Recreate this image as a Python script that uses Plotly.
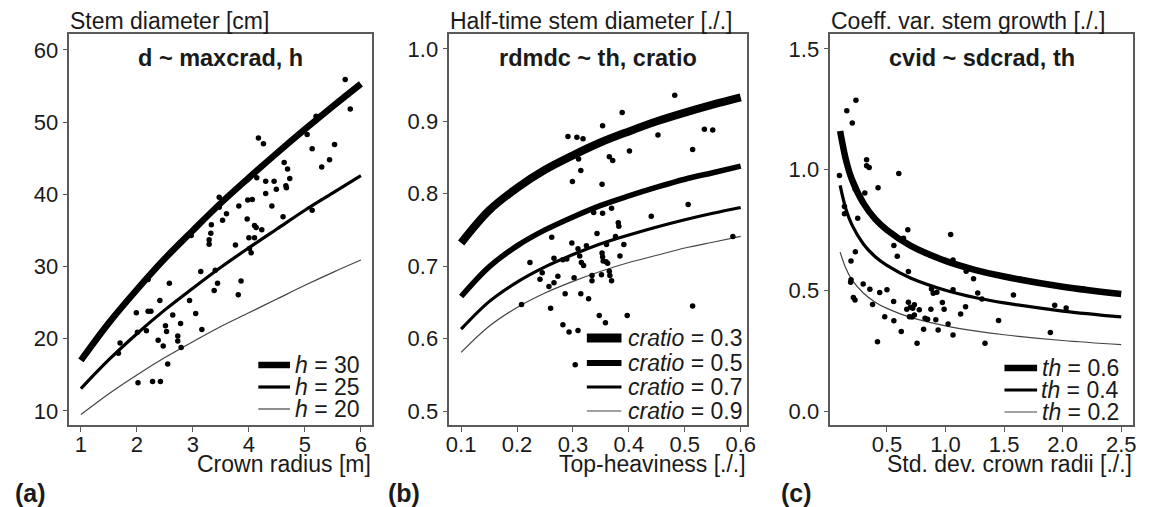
import plotly.graph_objects as go

W, H = 1151, 507
FONT = "Liberation Sans, Arial, sans-serif"
TXT = "#1a1a1a"
FRAME = "#5a5a5a"

# ---------------- Panel (a) data ----------------
a_curve_x = [1, 1.5, 2, 2.5, 3, 3.5, 4, 4.5, 5, 5.5, 6]
a_h30 = [17.0, 22.2, 26.8, 31.1, 35.0, 38.8, 42.3, 45.7, 49.0, 52.2, 55.3]
a_h25 = [13.1, 17.1, 20.7, 24.0, 27.0, 29.9, 32.6, 35.2, 37.8, 40.2, 42.6]
a_h20 = [9.5, 12.4, 15.0, 17.4, 19.6, 21.7, 23.6, 25.5, 27.4, 29.2, 30.9]
a_pts_x = [5.72, 5.81, 5.20, 5.04, 5.13, 5.30, 5.44, 5.53, 4.17, 4.26, 4.63, 4.69, 4.73, 4.67,
           4.66, 4.49, 4.45, 4.30, 4.30, 4.14, 4.41, 4.61, 5.13, 3.98, 4.06, 3.97, 4.10, 4.13,
           4.23, 4.00, 4.10, 3.82, 3.76, 3.60, 3.53, 3.47, 3.47, 3.33, 3.32, 3.29, 3.29, 2.97,
           4.01, 4.04, 3.14, 3.40, 3.38, 3.44, 3.86, 3.81, 2.58, 2.41, 2.94, 1.99, 2.20, 2.25,
           2.64, 3.05, 2.51, 2.53, 2.78, 2.17, 2.38, 2.47, 2.73, 2.73, 2.79, 3.16, 2.01, 1.67,
           1.70, 2.55, 2.02, 2.28, 2.42, 2.20]
a_pts_y = [55.9, 51.8, 50.8, 48.3, 46.3, 43.8, 44.8, 46.9, 47.8, 47.0, 44.4, 43.5, 42.2, 40.9,
           41.2, 40.7, 41.8, 41.8, 40.1, 42.3, 38.4, 36.9, 37.8, 39.2, 39.3, 36.6, 35.7, 35.4,
           35.1, 34.0, 34.0, 38.4, 33.0, 37.3, 36.4, 39.6, 38.2, 35.8, 34.6, 33.7, 33.1, 34.3,
           32.5, 31.9, 29.3, 29.5, 26.7, 27.7, 28.0, 26.1, 27.7, 25.3, 25.3, 23.6, 23.8, 23.8,
           23.3, 23.5, 21.8, 21.0, 22.1, 21.1, 19.8, 19.0, 20.4, 19.7, 18.8, 21.3, 20.9, 18.0,
           19.4, 16.5, 13.9, 14.1, 14.1, 28.2]
a_xticks = [1, 2, 3, 4, 5, 6]
a_yticks = [10, 20, 30, 40, 50, 60]

# ---------------- Panel (b) data ----------------
b_curve_x = [0.1, 0.15, 0.2, 0.25, 0.3, 0.35, 0.4, 0.45, 0.5, 0.55, 0.6]
b_c03 = [0.732, 0.777, 0.808, 0.833, 0.853, 0.871, 0.886, 0.900, 0.912, 0.923, 0.933]
b_c05 = [0.658, 0.699, 0.728, 0.750, 0.768, 0.784, 0.797, 0.809, 0.820, 0.829, 0.838]
b_c07 = [0.613, 0.651, 0.678, 0.699, 0.716, 0.731, 0.743, 0.754, 0.764, 0.773, 0.781]
b_c09 = [0.581, 0.617, 0.643, 0.663, 0.679, 0.693, 0.705, 0.715, 0.725, 0.733, 0.741]
b_pts_x = [0.482, 0.388, 0.353, 0.291, 0.307, 0.318, 0.452, 0.535, 0.550, 0.514, 0.401, 0.365,
           0.371, 0.314, 0.299, 0.352, 0.310, 0.506, 0.440, 0.381, 0.382, 0.353, 0.337, 0.369,
           0.586, 0.514, 0.262, 0.223, 0.208, 0.241, 0.245, 0.266, 0.257, 0.266, 0.273, 0.282,
           0.298, 0.286, 0.260, 0.282, 0.293, 0.309, 0.304, 0.302, 0.314, 0.328, 0.309, 0.312,
           0.315, 0.319, 0.324, 0.334, 0.334, 0.343, 0.347, 0.353, 0.352, 0.354, 0.351, 0.359,
           0.362, 0.358, 0.365, 0.366, 0.369, 0.360, 0.391, 0.376, 0.384, 0.397, 0.289]
b_pts_y = [0.936, 0.912, 0.894, 0.879, 0.878, 0.876, 0.881, 0.889, 0.888, 0.861, 0.859, 0.851,
           0.846, 0.832, 0.817, 0.813, 0.848, 0.785, 0.769, 0.760, 0.755, 0.773, 0.774, 0.780,
           0.741, 0.645, 0.740, 0.705, 0.647, 0.682, 0.691, 0.711, 0.672, 0.677, 0.686, 0.709,
           0.732, 0.662, 0.642, 0.619, 0.609, 0.611, 0.564, 0.684, 0.662, 0.655, 0.724, 0.714,
           0.705, 0.701, 0.728, 0.687, 0.680, 0.745, 0.632, 0.713, 0.718, 0.707, 0.688, 0.706,
           0.704, 0.622, 0.693, 0.687, 0.680, 0.730, 0.730, 0.741, 0.714, 0.632, 0.710]
b_xticks = [0.1, 0.2, 0.3, 0.4, 0.5, 0.6]
b_yticks = [0.5, 0.6, 0.7, 0.8, 0.9, 1.0]

# ---------------- Panel (c) data ----------------
c_curve_x = [0.1, 0.15, 0.2, 0.3, 0.4, 0.5, 0.7, 1.0, 1.25, 1.5, 2.0, 2.5]
c_th06 = [1.160, 1.040, 0.960, 0.860, 0.795, 0.750, 0.685, 0.622, 0.585, 0.557, 0.515, 0.485]
c_th04 = [0.935, 0.836, 0.772, 0.691, 0.639, 0.603, 0.551, 0.500, 0.470, 0.448, 0.414, 0.390]
c_th02 = [0.658, 0.590, 0.544, 0.488, 0.451, 0.425, 0.388, 0.353, 0.332, 0.316, 0.292, 0.275]
c_pts_x = [0.235, 0.157, 0.204, 0.326, 0.326, 0.348, 0.094, 0.601, 0.424, 0.227, 0.311, 0.137,
           0.137, 0.250, 0.678, 0.641, 1.044, 0.559, 0.588, 0.230, 0.193, 0.683, 1.064, 0.193,
           0.190, 0.213, 0.227, 0.297, 0.354, 0.438, 0.500, 0.377, 0.557, 0.683, 0.669, 0.700,
           0.720, 0.734, 0.776, 0.692, 0.715, 0.734, 0.481, 0.559, 0.622, 0.419, 0.757, 0.825,
           0.847, 0.875, 0.813, 0.917, 0.937, 0.988, 0.973, 0.880, 0.895, 0.926, 1.022, 1.064,
           1.064, 1.129, 1.171, 1.176, 1.239, 1.275, 1.311, 1.337, 1.453, 1.580, 1.895, 1.932,
           2.030, 2.177, 1.641]
c_pts_y = [1.287, 1.244, 1.193, 1.041, 1.016, 1.009, 0.976, 0.984, 0.925, 0.920, 0.903, 0.847,
           0.817, 0.799, 0.751, 0.716, 0.731, 0.686, 0.641, 0.660, 0.622, 0.578, 0.626, 0.544,
           0.533, 0.470, 0.460, 0.526, 0.504, 0.491, 0.502, 0.441, 0.454, 0.451, 0.422, 0.430,
           0.426, 0.440, 0.419, 0.391, 0.389, 0.398, 0.391, 0.374, 0.329, 0.287, 0.281, 0.384,
           0.380, 0.422, 0.339, 0.378, 0.336, 0.422, 0.450, 0.505, 0.488, 0.492, 0.360, 0.315,
           0.502, 0.402, 0.432, 0.579, 0.548, 0.489, 0.464, 0.281, 0.375, 0.481, 0.325, 0.438,
           0.427, 0.505, 0.546]
c_xticks = [0.5, 1.0, 1.5, 2.0, 2.5]
c_yticks = [0.0, 0.5, 1.0, 1.5]

# ---------------- Labels ----------------
a_labels = ["<i>h</i> = 30", "<i>h</i> = 25", "<i>h</i> = 20"]
b_labels = ["<i>cratio</i> = 0.3", "<i>cratio</i> = 0.5", "<i>cratio</i> = 0.7", "<i>cratio</i> = 0.9"]
c_labels = ["<i>th</i> = 0.6", "<i>th</i> = 0.4", "<i>th</i> = 0.2"]
panel_titles = ["d ~ maxcrad, h", "rdmdc ~ th, cratio", "cvid ~ sdcrad, th"]
y_titles = ["Stem diameter [cm]", "Half-time stem diameter [./.]", "Coeff. var. stem growth [./.]"]
x_titles = ["Crown radius [m]", "Top-heaviness [./.]", "Std. dev. crown radii [./.]"]
panel_tags = ["(a)", "(b)", "(c)"]

# ---------------- Layout geometry (pixels) ----------------
frames = [(67, 372.7), (451, 751.7), (836, 1141.7)]
ytop, ybot = 34, 425
def px(x): return x / W
def py(y): return 1 - y / H

fig = go.Figure()

def add_curve(x, y, width, color, xa, ya):
    fig.add_trace(go.Scatter(x=x, y=y, mode="lines", line=dict(width=width, color=color, shape="spline"),
                             xaxis=xa, yaxis=ya, showlegend=False, hoverinfo="skip"))

def add_pts(x, y, xa, ya):
    fig.add_trace(go.Scatter(x=x, y=y, mode="markers", marker=dict(size=5.5, color="black"),
                             xaxis=xa, yaxis=ya, showlegend=False))

# panel a
add_curve(a_curve_x, a_h30, 6.5, "black", "x", "y")
add_curve(a_curve_x, a_h25, 3.2, "black", "x", "y")
add_curve(a_curve_x, a_h20, 1.2, "#444", "x", "y")
add_pts(a_pts_x, a_pts_y, "x", "y")
# panel b
add_curve(b_curve_x, b_c03, 8, "black", "x2", "y2")
add_curve(b_curve_x, b_c05, 5.5, "black", "x2", "y2")
add_curve(b_curve_x, b_c07, 3.2, "black", "x2", "y2")
add_curve(b_curve_x, b_c09, 1.2, "#444", "x2", "y2")
add_pts(b_pts_x, b_pts_y, "x2", "y2")
# panel c
add_curve(c_curve_x, c_th06, 6.5, "black", "x3", "y3")
add_curve(c_curve_x, c_th04, 3.2, "black", "x3", "y3")
add_curve(c_curve_x, c_th02, 1.2, "#444", "x3", "y3")
add_pts(c_pts_x, c_pts_y, "x3", "y3")

axis_common = dict(showgrid=False, zeroline=False, showline=True, mirror=True, linecolor=FRAME,
                   linewidth=1.5, ticks="outside", ticklen=5, tickcolor=FRAME, tickwidth=1.2,
                   tickfont=dict(family=FONT, size=22, color=TXT))
xstand = dict(ticklabelstandoff=-6)
ydom = [py(ybot), py(ytop)]

fig.update_layout(
    width=W, height=H, margin=dict(l=0, r=0, t=0, b=0),
    paper_bgcolor="white", plot_bgcolor="white", showlegend=False,
    xaxis=dict(domain=[px(frames[0][0]), px(frames[0][1])], range=[0.793, 6.195],
               tickvals=a_xticks, anchor="y", **xstand, **axis_common),
    yaxis=dict(domain=ydom, range=[8.06, 62.2], tickvals=a_yticks, anchor="x", **axis_common),
    xaxis2=dict(domain=[px(frames[1][0]), px(frames[1][1])], range=[0.0788, 0.611],
                tickvals=b_xticks, tickformat=".1f", anchor="y2", **xstand, **axis_common),
    yaxis2=dict(domain=ydom, range=[0.4807, 1.0205], tickvals=b_yticks, tickformat=".1f",
                anchor="x2", **axis_common),
    xaxis3=dict(domain=[px(frames[2][0]), px(frames[2][1])], range=[0.016, 2.599],
                tickvals=c_xticks, tickformat=".1f", anchor="y3", **xstand, **axis_common),
    yaxis3=dict(domain=ydom, range=[-0.058, 1.562], tickvals=c_yticks, tickformat=".1f",
                anchor="x3", **axis_common),
)

ann = []
shapes = []
for i, (l, r) in enumerate(frames):
    ann.append(dict(text=y_titles[i], x=px(l - 1), y=py(21), xref="paper", yref="paper",
                    xanchor="left", yanchor="middle", showarrow=False,
                    font=dict(family=FONT, size=23, color=TXT)))
    ann.append(dict(text=x_titles[i], x=px(r + 1), y=py(464), xref="paper", yref="paper",
                    xanchor="right", yanchor="middle", showarrow=False,
                    font=dict(family=FONT, size=23, color=TXT)))
    ann.append(dict(text="<b>" + panel_titles[i] + "</b>", x=px((l + r) / 2), y=py(58),
                    xref="paper", yref="paper", xanchor="center", yanchor="middle",
                    showarrow=False, font=dict(family=FONT, size=23.5, color=TXT)))

for tag, xl in zip(panel_tags, [10, 387, 784]):
    ann.append(dict(text="<b>" + tag + "</b>", x=px(xl), y=py(493), xref="paper", yref="paper",
                    xanchor="left", yanchor="middle", showarrow=False,
                    font=dict(family=FONT, size=25, color=TXT)))

# legends: (labels, widths, colors, key x0, key x1, text right, row y's)
legends = [
    (a_labels, [6.5, 3.2, 1.2], ["black", "black", "#444"], 258, 290, 363, [365, 387, 409]),
    (b_labels, [9, 6, 3.2, 1.2], ["black", "black", "black", "#444"], 590, 625, 749, [338, 363, 387, 411]),
    (c_labels, [6.5, 3.2, 1.2], ["black", "black", "#444"], 1012, 1045, 1130, [368, 390, 412]),
]
for labels, widths, colors, k0, k1, tr, rows in legends:
    for lab, w, c, yy in zip(labels, widths, colors, rows):
        shapes.append(dict(type="line", xref="paper", yref="paper", x0=px(k0), x1=px(k1),
                           y0=py(yy), y1=py(yy), line=dict(color=c, width=w)))
        ann.append(dict(text=lab, x=px(tr), y=py(yy), xref="paper", yref="paper",
                        xanchor="right", yanchor="middle", showarrow=False,
                        font=dict(family=FONT, size=23, color=TXT)))

fig.update_layout(annotations=ann, shapes=shapes)
fig.write_html("out.html", config={"displayModeBar": False},
               post_script="document.body.style.margin='0';document.body.style.padding='0';")
